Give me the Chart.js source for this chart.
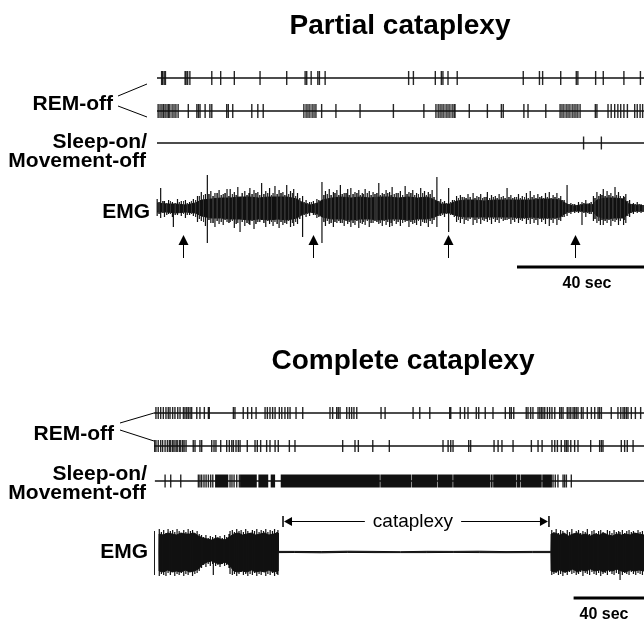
<!DOCTYPE html>
<html>
<head>
<meta charset="utf-8">
<title>Partial and complete cataplexy</title>
<script src="https://cdn.jsdelivr.net/npm/chart.js@4.4.0/dist/chart.umd.min.js"></script>
<style>
  html, body { margin: 0; padding: 0; background: #fff; }
  canvas { display: block; }
</style>
</head>
<body>
<canvas id="fig" width="644" height="621"></canvas>
<script>
// ---- data (times in seconds from the start of each trace) ----

// partial cataplexy
var topRem1 = [2.4, 2.7, 3.2, 3.6, 9.8, 10.1, 10.6, 11.3, 18.2, 21.0, 25.3, 33.4, 41.8, 47.6, 48.1, 49.5, 51.6, 52.1, 53.9,
  80.2, 81.7, 88.6, 90.5, 91.0, 92.6, 95.5, 116.3, 121.4, 122.4, 128.1, 133.0, 133.5, 139.1, 141.5, 148.0, 153.2]
var topRem2 = [1.3, 1.9, 2.5, 3.0, 3.5, 4.1, 4.6, 5.0, 5.7, 6.3, 6.9, 7.6, 10.8, 13.5, 14.0, 14.5, 16.1, 17.6, 18.2,
  22.9, 23.4, 24.8, 30.8, 32.7, 34.4, 47.2, 47.9, 48.5, 49.1, 49.8, 50.4, 51.0, 52.8, 57.3, 64.9, 75.4, 85.0,
  88.8, 89.5, 90.1, 90.7, 91.3, 92.0, 92.6, 93.2, 93.9, 94.5, 94.8, 99.3, 105.0, 109.4, 110.0, 116.5, 117.8, 123.4,
  127.9, 128.5, 129.1, 129.8, 130.4, 131.0, 131.7, 132.3, 132.9, 133.5, 134.2, 139.0, 139.5, 143.0, 144.0, 145.1,
  146.1, 147.0, 148.0, 149.1, 151.4, 152.2, 153.1, 153.9]
var topSleep = [135.3, 140.9]
var topArrows = [9.1, 50.1, 92.6, 132.6]
// EMG core envelope: [time, amplitude up, amplitude down]
var topEmg = [[1, 5, 4], [4, 4, 4], [7, 4, 5], [10, 3, 4], [13, 5, 5],
  [15, 8, 8], [18, 9, 10], [21, 10, 10], [24, 10, 11], [27, 11, 11], [30, 11, 12], [33, 10, 11], [36, 11, 12],
  [39, 11, 11], [42, 11, 12], [45, 9, 10], [47, 5, 6], [49, 3, 4], [51, 4, 5], [53, 8, 9],
  [56, 10, 11], [59, 11, 11], [62, 10, 12], [65, 11, 11], [68, 10, 11], [71, 11, 12], [74, 11, 11], [77, 10, 11],
  [80, 11, 12], [83, 10, 11], [86, 11, 11], [88.5, 8, 9], [90.5, 4, 5], [93, 4, 5], [95.5, 7, 8],
  [98, 8, 9], [101, 8, 9], [104, 7, 9], [107, 8, 9], [110, 8, 9], [113, 8, 9], [116, 8, 10], [119, 8, 9],
  [122, 9, 10], [125, 9, 10], [128, 8, 9], [130, 4, 4], [132, 2, 3], [134.5, 3, 3], [136.5, 4, 4], [138, 3, 3],
  [139.5, 8, 8], [142, 10, 11], [145, 10, 10], [148, 9, 10], [149.5, 4, 5], [151.5, 3, 3], [155.5, 2, 3]]
// single EMG deflections: [time, height up, depth down]
var topSpikes = [[1.0, 9, 8], [2.1, 20, 10], [3.3, 7, 9], [4.6, 8, 6], [5.8, 6, 9], [6.1, 4, 19], [7.4, 9, 7], [8.6, 7, 8],
  [9.9, 8, 10], [11.2, 6, 7], [12.4, 9, 8],
  [13.7, 12, 14], [14.9, 16, 13], [16.2, 14, 18], [16.8, 33, 35], [17.9, 17, 15], [19.2, 15, 19], [20.5, 18, 16],
  [21.8, 14, 17], [23.0, 19, 14], [24.0, 19, 14], [25.3, 16, 20], [26.4, 21, 15], [27.1, 10, 24], [28.6, 17, 18],
  [29.9, 15, 16], [30.2, 20, 17], [31.5, 18, 21], [32.7, 16, 14], [33.9, 25, 12], [35.2, 17, 19], [36.4, 20, 16],
  [37.5, 15, 18], [38.1, 22, 14], [39.4, 18, 20], [40.6, 16, 17], [41.8, 23, 16], [43.0, 17, 19], [44.0, 19, 18],
  [45.2, 15, 16],
  [46.8, 12, 29], [47.9, 8, 9], [49.0, 6, 8], [50.2, 7, 7], [51.3, 9, 10],
  [52.9, 26, 35], [54.0, 17, 18], [55.2, 19, 16], [56.5, 16, 19], [57.6, 18, 15], [58.7, 23, 15], [59.9, 15, 18],
  [61.0, 19, 16], [62.0, 20, 19], [63.3, 16, 17], [64.5, 18, 20], [65.6, 15, 16], [66.5, 19, 17], [67.8, 17, 19],
  [69.0, 16, 15], [70.8, 25, 16], [71.9, 15, 18], [73.1, 18, 17], [74.2, 16, 19], [75.0, 21, 18], [76.3, 15, 16],
  [77.6, 17, 18], [79.1, 22, 14], [80.3, 16, 19], [81.5, 18, 16], [82.7, 15, 17], [84.0, 20, 18], [85.2, 17, 15],
  [86.4, 16, 19], [87.6, 18, 16],
  [89.1, 31, 19], [90.3, 9, 8], [91.5, 7, 9], [92.8, 20, 24], [94.0, 8, 7],
  [95.3, 12, 14], [96.5, 13, 15], [97.7, 11, 16], [98.9, 14, 13], [100.5, 15, 17], [101.7, 12, 15], [102.9, 14, 16],
  [104.0, 11, 13], [105.0, 16, 14], [106.3, 13, 16], [107.5, 12, 14], [108.7, 14, 15], [110.0, 12, 13], [111.2, 20, 12],
  [112.4, 13, 16], [113.6, 11, 14], [114.8, 14, 15], [116.0, 12, 13], [117.3, 15, 16], [118.5, 17, 16], [119.7, 13, 15],
  [120.9, 14, 17], [122.1, 12, 14], [123.3, 15, 16], [124.5, 16, 18], [125.7, 13, 15], [126.9, 15, 17], [128.1, 12, 13],
  [129.2, 8, 9], [130.1, 23, 8], [131.3, 5, 6], [132.5, 4, 5], [133.7, 6, 5], [134.8, 6, 17], [136.0, 8, 9], [137.1, 5, 6],
  [138.4, 12, 13], [139.5, 16, 15], [140.6, 14, 17], [141.5, 19, 17], [142.7, 17, 15], [143.9, 15, 18], [145.2, 21, 14],
  [146.3, 16, 17], [147.9, 12, 17], [148.6, 14, 15],
  [149.8, 8, 9], [151.0, 5, 6], [152.2, 6, 5], [153.4, 4, 5]]
// in-between deflections that thicken the trace
var topFill = [[1.6, 6, 6], [2.8, 7, 5], [4.0, 5, 7], [5.2, 7, 6], [6.7, 5, 7], [8.0, 6, 5], [9.3, 7, 6], [10.5, 5, 7],
  [11.8, 7, 6], [13.1, 8, 9], [14.3, 12, 11], [15.6, 13, 14], [17.3, 14, 12], [18.6, 12, 15], [19.9, 15, 13],
  [21.2, 13, 14], [22.4, 15, 12], [23.6, 12, 15], [24.7, 14, 13], [25.9, 13, 16], [27.8, 15, 14], [29.3, 13, 15],
  [30.9, 14, 13], [32.1, 15, 16], [33.3, 13, 14], [34.6, 14, 15], [35.8, 15, 13], [37.0, 13, 14], [38.8, 14, 16],
  [40.0, 15, 14], [41.2, 13, 15], [42.4, 14, 13], [43.6, 15, 15], [44.6, 12, 14], [45.9, 10, 11], [47.3, 6, 7],
  [48.4, 5, 6], [49.6, 6, 5], [50.8, 5, 7], [51.9, 8, 9], [53.5, 13, 14], [54.6, 14, 13], [55.8, 13, 15],
  [57.0, 15, 14], [58.2, 13, 13], [59.3, 14, 15], [60.5, 15, 13], [61.5, 13, 14], [62.7, 14, 15], [63.9, 15, 13],
  [65.0, 13, 15], [66.0, 14, 14], [67.2, 15, 13], [68.4, 13, 15], [69.6, 14, 13], [70.2, 15, 14], [71.3, 13, 15],
  [72.5, 14, 13], [73.6, 15, 14], [74.7, 13, 15], [75.7, 14, 13], [76.9, 15, 14], [78.3, 13, 15], [79.7, 14, 13],
  [80.9, 15, 14], [82.1, 13, 15], [83.3, 14, 13], [84.6, 15, 14], [85.8, 13, 15], [87.0, 14, 13], [88.2, 11, 12],
  [89.7, 7, 8], [90.9, 6, 7], [92.1, 5, 6], [93.4, 6, 7], [94.6, 8, 9], [95.9, 10, 12], [97.1, 11, 11],
  [98.3, 10, 12], [99.6, 11, 11], [101.1, 10, 12], [102.3, 11, 11], [103.5, 10, 12], [104.6, 11, 11], [105.7, 10, 12],
  [106.9, 11, 11], [108.1, 10, 12], [109.4, 11, 11], [110.6, 10, 12], [111.8, 11, 11], [113.0, 10, 12],
  [114.2, 11, 11], [115.4, 10, 12], [116.7, 11, 11], [117.9, 10, 12], [119.1, 11, 11], [120.3, 10, 12],
  [121.5, 11, 11], [122.7, 10, 12], [123.9, 11, 11], [125.1, 10, 12], [126.3, 11, 11], [127.5, 10, 12],
  [128.7, 8, 9], [129.7, 5, 6], [130.7, 4, 5], [131.9, 4, 4], [133.1, 3, 4], [134.3, 4, 4], [135.4, 5, 5],
  [136.6, 4, 5], [137.7, 6, 6], [138.9, 10, 11], [140.1, 12, 13], [141.1, 13, 12], [142.1, 12, 13], [143.3, 13, 12],
  [144.5, 12, 13], [145.7, 13, 12], [146.9, 12, 13], [148.2, 11, 12], [149.2, 7, 8], [150.4, 4, 5], [151.6, 4, 4],
  [152.8, 4, 4], [154.0, 3, 4]]

// complete cataplexy
var botRem1 = [1.1, 2.4, 3.8, 5.3, 6.8, 8.1, 9.1, 10.6, 11.9, 13.5, 14.8, 16.7, 17.6, 18.6, 19.5, 20.5, 21.4, 24.3,
  26.1, 28.6, 30.9, 31.4, 45.1, 46.0, 50.7, 53.2, 55.5, 58.0, 63.1, 64.4, 65.9, 67.4, 68.8, 71.2, 72.6, 74.4, 76.0,
  77.3, 80.7, 84.5, 100.0, 101.5, 103.8, 104.7, 105.7, 109.5, 111.0, 112.3, 113.6, 115.2, 129.0, 131.3, 147.2, 151.0,
  156.7, 168.0, 168.6, 174.0, 176.5, 178.4, 183.1, 184.5, 188.2, 192.6, 199.6, 202.1, 203.0, 204.4, 211.5, 212.5,
  214.0, 215.3, 218.2, 219.2, 220.1, 221.0, 222.0, 223.5, 224.8, 226.1, 227.7, 230.5, 231.4, 232.4, 234.8, 235.8,
  236.8, 238.1, 239.0, 239.9, 240.9, 242.8, 243.8, 246.2, 248.5, 250.4, 252.3, 253.2, 254.2, 259.8, 263.6, 265.2,
  266.5, 267.4, 268.4, 269.3, 271.2, 273.5, 276.5]
var botRem2 = [0.3, 1.1, 2.4, 3.8, 4.9, 6.3, 7.6, 8.7, 9.5, 10.6, 11.4, 12.5, 13.2, 14.4, 15.2, 16.3, 17.1, 18.2, 22.3,
  23.3, 26.1, 27.1, 32.8, 34.1, 35.2, 37.9, 41.3, 42.8, 44.2, 45.1, 46.6, 47.9, 48.9, 53.0, 57.4, 58.7, 60.6, 64.0,
  65.9, 68.8, 70.6, 76.9, 80.1, 107.2, 114.2, 116.1, 124.3, 133.7, 164.2, 167.1, 168.6, 169.9, 178.8, 179.9, 193.2,
  195.5, 197.7, 204.0, 214.4, 218.2, 220.5, 226.1, 227.7, 229.2, 231.4, 233.4, 234.3, 235.2, 236.8, 239.0, 240.9,
  248.1, 253.2, 254.2, 255.1, 265.5, 267.4, 268.9, 272.2]
var botSleep = [6.3, 9.5, 15.2, 25.2, 26.1, 27.1, 28.4, 29.6, 30.9, 32.2, 33.4, 43.2, 44.3, 45.5, 47.0, 48.5,
  226.7, 228.0, 229.5, 232.4, 233.3, 234.3, 237.1]
// continuous Sleep-on runs [start, end]
var botSleepRuns = [[34.7, 42.2], [48.9, 58.4], [59.3, 64.9], [66.3, 68.8], [72.0, 128.3], [128.6, 146.1],
  [146.4, 160.8], [161.1, 169.7], [170.0, 191.1], [191.4, 192.4], [192.7, 205.7], [206.0, 208.2], [208.5, 220.3],
  [220.6, 226.1]]
var botEmg = [[2.8, 0, 0], [2.9, 18, 19], [5.3, 17, 20], [7.8, 19, 18], [10.3, 18, 20], [12.8, 17, 19], [15.3, 19, 20],
  [17.8, 18, 18], [20.3, 18, 20], [22.8, 19, 19], [25.3, 16, 17], [27.8, 14, 12], [30.3, 13, 10], [32.8, 12, 9],
  [35.3, 14, 11], [37.8, 13, 12], [40.3, 12, 10], [42.8, 15, 13], [45.3, 18, 19], [47.8, 19, 20], [50.3, 17, 19],
  [52.8, 18, 20], [55.3, 19, 18], [57.8, 17, 20], [60.3, 18, 19], [62.8, 19, 20], [65.3, 17, 18], [67.8, 18, 20],
  [70.5, 19, 19], [70.6, 0.6, 0.6], [80, 0.6, 0.5], [95, 0.4, 0.8], [110, 0.8, 0.4], [125, 0.6, 0.6], [140, 0.3, 0.6],
  [155, 0.7, 0.6], [170, 0.6, 0.4], [185, 0.8, 0.6], [200, 0.4, 0.7], [215, 0.6, 0.6], [225.5, 0.6, 0.6],
  [225.6, 18, 19], [228, 19, 20], [230.5, 17, 18], [233, 19, 20], [235.5, 16, 19], [238, 18, 17], [240.5, 19, 20],
  [243, 17, 18], [245.5, 18, 19], [248, 16, 17], [250.5, 18, 19], [253, 17, 18], [255.5, 19, 20], [258, 17, 18],
  [260.5, 16, 19], [263, 18, 17], [265.5, 17, 19], [268, 18, 20], [270.5, 17, 18], [273, 19, 19], [275.5, 18, 18],
  [278.4, 17, 19]]
var botSpikes = [[0.2, 21, 23], [3.0, 23, 24], [4.2, 20, 22], [5.5, 22, 23], [6.8, 19, 24], [8.0, 23, 21], [9.3, 21, 23],
  [10.6, 22, 20], [11.8, 20, 24], [13.1, 23, 22], [14.3, 21, 23], [15.6, 19, 21], [16.9, 22, 24], [18.1, 20, 22],
  [19.4, 23, 23], [20.7, 21, 20], [21.9, 22, 24], [23.2, 19, 22], [24.5, 21, 21], [25.7, 18, 19], [27.0, 17, 16],
  [28.2, 15, 13], [29.5, 17, 15], [30.8, 14, 12], [32.0, 16, 14], [33.3, 15, 12], [33.7, 10, 23], [35.0, 17, 14],
  [36.3, 15, 13], [37.5, 16, 15], [38.8, 14, 12], [40.1, 17, 14], [41.3, 15, 13], [42.6, 18, 16], [43.2, 21, 22],
  [44.5, 22, 23], [45.7, 20, 22], [47.0, 23, 24], [48.3, 21, 22], [49.5, 22, 20], [50.8, 20, 23], [52.1, 23, 22],
  [53.3, 21, 24], [54.6, 19, 22], [55.9, 22, 23], [57.1, 21, 21], [58.4, 23, 24], [59.7, 20, 22], [60.9, 22, 23],
  [62.2, 21, 20], [63.5, 23, 24], [64.7, 20, 22], [66.0, 22, 23], [67.3, 21, 21], [68.5, 23, 24], [69.8, 20, 22],
  [70.4, 22, 23],
  [226.0, 22, 23], [227.2, 20, 22], [228.5, 23, 21], [229.8, 19, 23], [231.0, 22, 22], [232.3, 21, 24], [233.6, 17, 21],
  [234.8, 22, 23], [236.1, 20, 20], [237.4, 23, 22], [238.6, 18, 21], [239.9, 21, 23], [241.2, 22, 22], [242.4, 19, 20],
  [243.7, 21, 24], [245.0, 20, 21], [246.2, 23, 22], [247.5, 18, 23], [248.8, 21, 20], [250.0, 22, 22], [251.3, 19, 23],
  [252.6, 21, 21], [253.8, 22, 24], [255.1, 20, 22], [256.4, 18, 21], [257.6, 22, 23], [258.9, 21, 20], [260.2, 19, 22],
  [261.4, 22, 23], [262.7, 20, 21], [264.0, 21, 22], [264.8, 20, 28], [266.1, 22, 23], [267.4, 19, 21], [268.6, 21, 22],
  [269.9, 22, 23], [271.2, 20, 20], [272.4, 21, 22], [273.7, 19, 23], [275.0, 22, 21], [276.2, 20, 22], [277.5, 21, 23]]
var cataplexy = [73.3, 224.4]

var topSpan = 154.33
var botSpan = 278.4
var scaleBar = 40

// ---- layout (pixel rows on the y scale) ----
var rows = {
  topRem1: 78, topRem2: 111, topSleep: 143, topEmg: 208,
  botRem1: 413, botRem2: 446, botSleep: 481, botEmg: 552
}
var FONT = '"Liberation Sans", Arial, Helvetica, sans-serif'
var INK = '#111'

function ticks(times, axis, row, half) {
  return {
    data: times.map(function(t) { return {x: t, y: row} }),
    xAxisID: axis,
    showLine: false,
    pointStyle: 'line',
    pointRotation: 90,
    pointRadius: half,
    pointBorderWidth: 1.4,
    pointBorderColor: 'rgba(0,0,0,0.85)'
  }
}

function path(points, axis, width, color) {
  return {
    data: points,
    xAxisID: axis,
    borderColor: color || INK,
    borderWidth: width,
    borderCapStyle: 'butt',
    pointRadius: 0,
    tension: 0,
    fill: false
  }
}

function baseline(axis, row, from, to) {
  return path([{x: from, y: row}, {x: to, y: row}], axis, 1.6)
}

function runs(pairs, row) {
  var out = []
  pairs.forEach(function(p) {
    out.push({x: p[0], y: row}, {x: p[1], y: row}, {x: p[1], y: null})
  })
  return out
}

function spikes(list, base) {
  var out = []
  list.forEach(function(s) {
    out.push({x: s[0], y: base - s[1]}, {x: s[0], y: base + s[2]}, {x: s[0], y: null})
  })
  return out
}

function envelope(list, axis, base) {
  var upper = path(list.map(function(e) { return {x: e[0], y: base - e[1]} }), axis, 1)
  var lower = path(list.map(function(e) { return {x: e[0], y: base + e[2]} }), axis, 1)
  upper.fill = '+1'
  upper.backgroundColor = INK
  return [upper, lower]
}

var datasets = [
  baseline('xTop', rows.topRem1, 0.94, topSpan),
  baseline('xTop', rows.topRem2, 0.94, topSpan),
  baseline('xTop', rows.topSleep, 0.94, topSpan),
  ticks(topRem1, 'xTop', rows.topRem1, 7),
  ticks(topRem2, 'xTop', rows.topRem2, 7),
  ticks(topSleep, 'xTop', rows.topSleep, 6.5),
  path(spikes(topSpikes, rows.topEmg), 'xTop', 1.2),
  path(spikes(topFill, rows.topEmg), 'xTop', 1, '#333')
].concat(envelope(topEmg, 'xTop', rows.topEmg)).concat([
  baseline('xBot', rows.botRem1, 0, botSpan),
  baseline('xBot', rows.botRem2, 0, botSpan),
  baseline('xBot', rows.botSleep, 0.5, botSpan),
  ticks(botRem1, 'xBot', rows.botRem1, 6),
  ticks(botRem2, 'xBot', rows.botRem2, 6),
  ticks(botSleep, 'xBot', rows.botSleep, 6.5),
  path(runs(botSleepRuns, rows.botSleep), 'xBot', 13),
  path(spikes(botSpikes, rows.botEmg), 'xBot', 1.2)
]).concat(envelope(botEmg, 'xBot', rows.botEmg))

var figureText = {
  id: 'figureText',
  afterDraw: function(chart) {
    var ctx = chart.ctx
    var xt = chart.scales.xTop
    var xb = chart.scales.xBot
    ctx.save()
    ctx.fillStyle = '#000'
    ctx.strokeStyle = '#000'

    // titles
    ctx.textAlign = 'center'
    ctx.font = 'bold 28px ' + FONT
    ctx.fillText('Partial cataplexy', 400, 34)
    ctx.fillText('Complete cataplexy', 403, 369)

    // trace labels
    ctx.textAlign = 'right'
    ctx.font = 'bold 21px ' + FONT
    ctx.fillText('REM-off', 113, 110)
    ctx.fillText('Sleep-on/', 147, 148)
    ctx.fillText('Movement-off', 146, 167)
    ctx.fillText('EMG', 150, 218)
    ctx.fillText('REM-off', 114, 440)
    ctx.fillText('Sleep-on/', 147, 480)
    ctx.fillText('Movement-off', 146, 499)
    ctx.fillText('EMG', 148, 558)

    // brackets from REM-off to its two rows
    ctx.lineWidth = 1
    ctx.beginPath()
    ctx.moveTo(118, 96); ctx.lineTo(147, 84)
    ctx.moveTo(118, 106); ctx.lineTo(147, 117)
    ctx.moveTo(120, 423); ctx.lineTo(154, 413)
    ctx.moveTo(120, 430); ctx.lineTo(154, 441)
    ctx.stroke()

    // arrows under the partial events
    topArrows.forEach(function(t) {
      var x = Math.round(xt.getPixelForValue(t)) + 0.5
      ctx.beginPath()
      ctx.moveTo(x, 235); ctx.lineTo(x - 5, 245); ctx.lineTo(x + 5, 245)
      ctx.closePath()
      ctx.fill()
      ctx.lineWidth = 1
      ctx.beginPath()
      ctx.moveTo(x, 244); ctx.lineTo(x, 258)
      ctx.stroke()
    })

    // 40 sec scale bars
    ctx.lineWidth = 3
    ctx.beginPath()
    ctx.moveTo(xt.getPixelForValue(topSpan - scaleBar), 267)
    ctx.lineTo(xt.getPixelForValue(topSpan), 267)
    ctx.moveTo(xb.getPixelForValue(botSpan - scaleBar), 598)
    ctx.lineTo(xb.getPixelForValue(botSpan), 598)
    ctx.stroke()
    ctx.textAlign = 'center'
    ctx.font = 'bold 16px ' + FONT
    ctx.fillText('40 sec', 587, 288)
    ctx.fillText('40 sec', 604, 619)

    // cataplexy interval
    var x1 = xb.getPixelForValue(cataplexy[0])
    var x2 = xb.getPixelForValue(cataplexy[1])
    var ym = 521.5
    ctx.font = '19px ' + FONT
    var label = 'cataplexy'
    var mid = (x1 + x2) / 2 - 3
    var half = ctx.measureText(label).width / 2
    ctx.fillText(label, mid, 527)
    ctx.lineWidth = 1.5
    ctx.beginPath()
    ctx.moveTo(x1, ym - 5.5); ctx.lineTo(x1, ym + 5.5)
    ctx.moveTo(x2, ym - 5.5); ctx.lineTo(x2, ym + 5.5)
    ctx.stroke()
    ctx.lineWidth = 1
    ctx.beginPath()
    ctx.moveTo(x1 + 8, ym); ctx.lineTo(mid - half - 8, ym)
    ctx.moveTo(mid + half + 8, ym); ctx.lineTo(x2 - 8, ym)
    ctx.stroke()
    ctx.beginPath()
    ctx.moveTo(x1 + 1, ym); ctx.lineTo(x1 + 9, ym - 4.5); ctx.lineTo(x1 + 9, ym + 4.5)
    ctx.closePath()
    ctx.moveTo(x2 - 1, ym); ctx.lineTo(x2 - 9, ym - 4.5); ctx.lineTo(x2 - 9, ym + 4.5)
    ctx.closePath()
    ctx.fill()

    ctx.restore()
  }
}

new Chart(document.getElementById('fig'), {
  type: 'line',
  data: {datasets: datasets},
  options: {
    responsive: false,
    animation: false,
    devicePixelRatio: 1,
    events: [],
    layout: {autoPadding: false, padding: {left: 154, right: 0, top: 0, bottom: 0}},
    plugins: {legend: {display: false}, tooltip: {enabled: false}, title: {display: false}},
    scales: {
      xTop: {type: 'linear', axis: 'x', min: 0, max: topSpan, display: false},
      xBot: {type: 'linear', axis: 'x', min: 0, max: botSpan, display: false},
      y: {type: 'linear', min: 0, max: 621, reverse: true, display: false}
    }
  },
  plugins: [figureText]
})
</script>
</body>
</html>
